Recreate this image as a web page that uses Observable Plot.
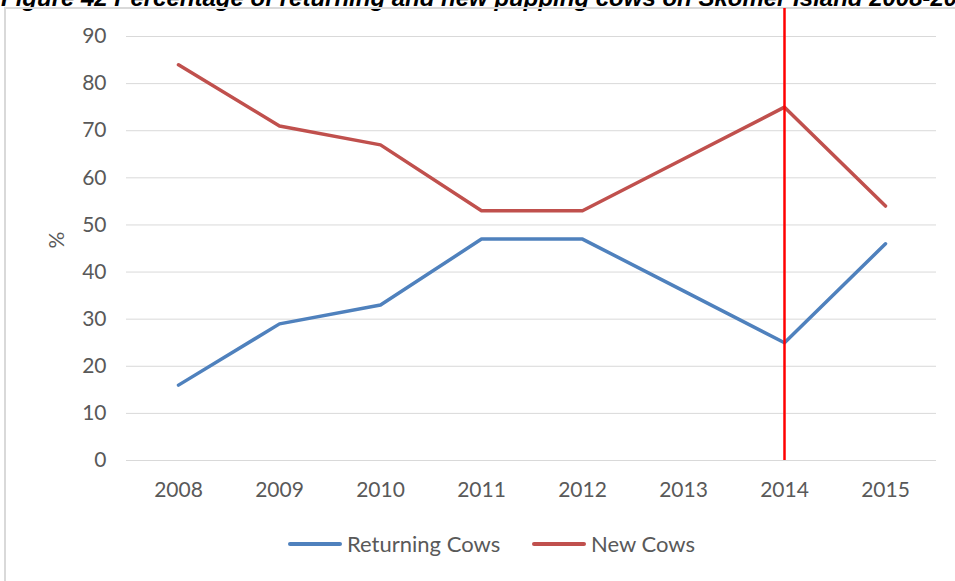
<!DOCTYPE html>
<html><head><meta charset="utf-8">
<script src="https://cdn.jsdelivr.net/npm/d3@7"></script>
<script src="https://cdn.jsdelivr.net/npm/@observablehq/plot@0.6"></script>
<style>
body{margin:0;width:955px;height:581px;overflow:hidden;background:#fff;position:relative;font-family:Lato,sans-serif}
#title{position:absolute;left:1px;top:-14px;font:italic bold 24px "Liberation Sans",Arial,sans-serif;line-height:24px;white-space:nowrap;color:#000}
#frame{position:absolute;left:4px;top:7px;width:1000px;height:1000px;border:2px solid #d9d9d9}
#chart{position:absolute;left:0;top:0}
.lg{position:absolute;top:532px;height:24px;line-height:24px;font-size:22px;color:#595959;white-space:nowrap;display:flex;align-items:center}
.sw{display:inline-block;width:54px;height:4px;border-radius:2px;margin-right:5px}
</style></head><body>
<div id="title">Figure 42 Percentage of returning and new pupping cows on Skomer Island 2008-2015</div>
<div id="frame"></div>
<div id="chart"></div>
<div class="lg" style="left:288px"><span class="sw" style="background:#4f81bd"></span>Returning Cows</div>
<div class="lg" style="left:532px"><span class="sw" style="background:#c0504d"></span>New Cows</div>
<script>
const years = ["2008","2009","2010","2011","2012","2013","2014","2015"];
const returningCows = [16, 29, 33, 47, 47, 36, 25, 46];
const newCows = [84, 71, 67, 53, 53, 64, 75, 54];
const yTicks = [0,10,20,30,40,50,60,70,80,90];
const seriesNames = ["Returning Cows","New Cows"];
const seriesColors = ["#4f81bd","#c0504d"];
const markerYear = ["2014"];

const rows = [
  ...years.map((y,i)=>({year:y, value:returningCows[i], series:seriesNames[0]})),
  ...years.map((y,i)=>({year:y, value:newCows[i], series:seriesNames[1]}))
];

const chart = Plot.plot({
  width:955, height:500,
  marginLeft:126, marginRight:19, marginTop:36, marginBottom:40,
  style:{fontFamily:"Lato, sans-serif", fontSize:"21px", color:"#595959", background:"transparent"},
  x:{type:"point", domain:years, padding:0.5, label:null},
  y:{domain:[0,90], label:null},
  color:{domain:seriesNames, range:seriesColors},
  marks:[
    Plot.gridY(yTicks, {stroke:"#d9d9d9", strokeOpacity:1, strokeWidth:1}),
    Plot.axisY(yTicks, {tickSize:0, tickPadding:20, label:null, fill:"#595959"}),
    Plot.axisX({tickSize:0, tickPadding:22, label:null, fill:"#595959"}),
    Plot.lineY(rows, {x:"year", y:"value", z:"series", stroke:"series", strokeWidth:3.5, strokeLinecap:"round", strokeLinejoin:"round"}),
    Plot.ruleX(markerYear, {y1:90, y2:0, insetTop:-28, stroke:"#ff0000", strokeWidth:2.5}),
    Plot.text(["%"], {frameAnchor:"left", dx:-69, rotate:-90, fontSize:21, fill:"#595959"})
  ]
});
document.getElementById("chart").appendChild(chart);
</script>
</body></html>
